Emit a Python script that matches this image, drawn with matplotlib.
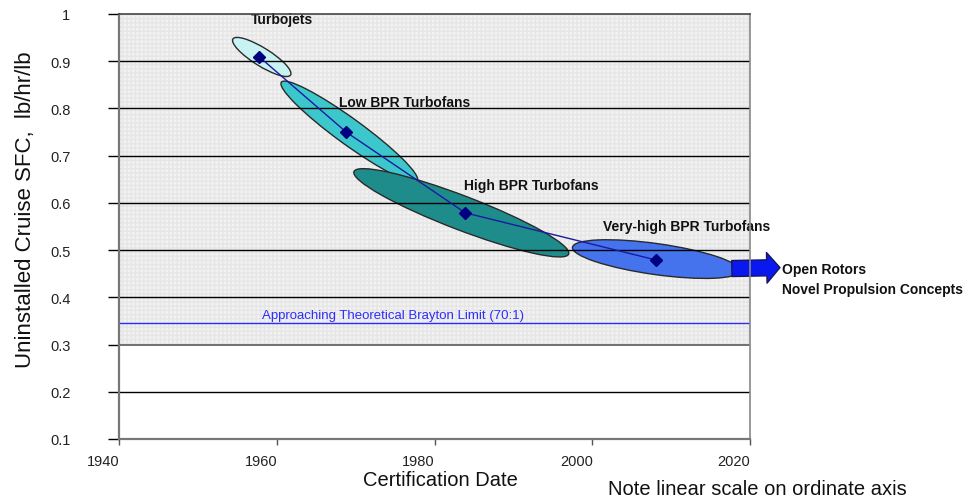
import matplotlib
matplotlib.use("Agg")
import matplotlib.pyplot as plt
import matplotlib.transforms as mtransforms
from matplotlib.patches import Ellipse

plt.rcParams['font.family'] = ['Liberation Sans', 'DejaVu Sans']

# ---------------- data ----------------
groups = ["Turbojets", "Low BPR Turbofans", "High BPR Turbofans", "Very-high BPR Turbofans"]
cert_year = [1957.8, 1968.8, 1983.9, 2008.1]          # diamond markers
cruise_sfc = [0.909, 0.750, 0.579, 0.479]
ellipse_year = [1958.1, 1969.2, 1983.4, 2008.1]        # ellipse centres
ellipse_sfc = [0.909, 0.751, 0.579, 0.481]
label_year = [1960.7, 1976.2, 1992.3, 2012.0]
label_sfc = [0.989, 0.814, 0.638, 0.551]
brayton_limit = 0.346
brayton_text = "Approaching Theoretical Brayton Limit (70:1)"
brayton_text_pos = (1974.7, 0.3625)
future_arrow_from = (2017.7, 0.461)
future_arrow_to = (2023.8, 0.463)
future_labels = ["Open Rotors", "Novel Propulsion Concepts"]
future_label_year = 2024.1
future_label_sfc = [0.460, 0.418]
x_ticks = [1940, 1960, 1980, 2000, 2020]
y_ticks = [0.1, 0.2, 0.3, 0.4, 0.5, 0.6, 0.7, 0.8, 0.9, 1.0]
y_tick_labels = ["0.1", "0.2", "0.3", "0.4", "0.5", "0.6", "0.7", "0.8", "0.9", "1"]
grid_levels = [0.2, 0.3, 0.4, 0.5, 0.6, 0.7, 0.8, 0.9]

# ---------------- styles ----------------
ell_len_px = [68, 168, 230, 169]
ell_wid_px = [18, 26, 34, 31]
ell_ang = [-32, -36, -21, -8]
ell_col = ['#c9f3f3', '#3cc7cc', '#1f8c8c', '#4573ee']

fig = plt.figure(figsize=(9.74, 5.02), dpi=100)
ax = fig.add_axes([119 / 974, 62 / 502, 631 / 974, 425 / 502])
ax.set_xlim(1940, 2020)
ax.set_ylim(0.1, 1.0)

# patterned background region
ax.axhspan(0.3, 1.0, facecolor='#f2f2f2', edgecolor='#e6e6e6', hatch='++++', lw=0, zorder=0)

# ellipses (size in pixels, centred on data positions)
for cx, cy, L, W, a, c in zip(ellipse_year, ellipse_sfc, ell_len_px, ell_wid_px, ell_ang, ell_col):
    tr = mtransforms.IdentityTransform() + mtransforms.ScaledTranslation(cx, cy, ax.transData)
    e = Ellipse((0, 0), L, W, angle=a, transform=tr, facecolor=c,
                edgecolor='#2a2a2a', lw=1.0, zorder=2)
    ax.add_patch(e)

# gridlines on top of ellipses
for g in grid_levels:
    col = '#707070' if g == 0.3 else 'black'
    lw = 1.4 if g == 0.3 else 1.0
    ax.axhline(g, color=col, lw=lw, zorder=3)

# trend line and diamonds
ax.plot(cert_year, cruise_sfc, color='#1a1aa0', lw=1.0, zorder=4)
ax.plot(cert_year, cruise_sfc, linestyle='none', marker='D', markersize=6,
        color='#000080', zorder=5)

# Brayton limit
ax.axhline(brayton_limit, color='#2d2dff', lw=1.0, zorder=3)
ax.text(*brayton_text_pos, brayton_text, color='#2d2dff', fontsize=9.5,
        ha='center', va='center', zorder=6)

# group labels
for name, lx, ly in zip(groups, label_year, label_sfc):
    ax.text(lx, ly, name, fontsize=10, fontweight='bold', ha='center', va='center',
            color='#111111', zorder=6, clip_on=False)

# future arrow
ax.annotate("", xy=future_arrow_to, xytext=future_arrow_from,
            arrowprops=dict(arrowstyle="simple,head_length=0.95,head_width=2.2,tail_width=1.15",
                            fc='#0a18f0', ec='#15155a', lw=1.0, shrinkA=0, shrinkB=0,
                            mutation_scale=10),
            annotation_clip=False, zorder=6)
for txt, ly in zip(future_labels, future_label_sfc):
    ax.text(future_label_year, ly, txt, fontsize=10, fontweight='bold', ha='left',
            va='center', color='#111111', clip_on=False)

# axes styling
for side in ['left', 'bottom']:
    ax.spines[side].set_color('#777777')
    ax.spines[side].set_linewidth(1.6)
ax.spines['right'].set_color('#888888')
ax.spines['right'].set_linewidth(1.2)
ax.spines['top'].set_color('#444444')
ax.spines['top'].set_linewidth(1.2)
ax.set_zorder(1)
for s in ax.spines.values():
    s.set_zorder(7)

ax.set_yticks(y_ticks)
ax.set_yticklabels(y_tick_labels)
ax.set_xticks(x_ticks)
ax.set_xticklabels([str(x) for x in x_ticks])
ax.tick_params(axis='y', length=8, width=1, color='black', pad=27, labelsize=10.5,
               labelcolor='#222222')
ax.tick_params(axis='x', length=4.5, width=1, color='#555555', pad=6, labelsize=10.5,
               labelcolor='#222222')
offset = mtransforms.ScaledTranslation(-0.16, 0, fig.dpi_scale_trans)
for lab in ax.xaxis.get_majorticklabels():
    lab.set_transform(lab.get_transform() + offset)

ax.set_ylabel("Uninstalled Cruise SFC,  lb/hr/lb", fontsize=16, color='#111111')
ax.yaxis.set_label_coords(-0.131, 0.541)
ax.set_xlabel("Certification Date", fontsize=14.5, color='#111111')
ax.xaxis.set_label_coords(0.509, -0.073)

fig.text(608 / 974, 12 / 502, "Note linear scale on ordinate axis", fontsize=14.5,
         ha='left', va='center', color='#111111')

fig.savefig("out.png", dpi=100)
